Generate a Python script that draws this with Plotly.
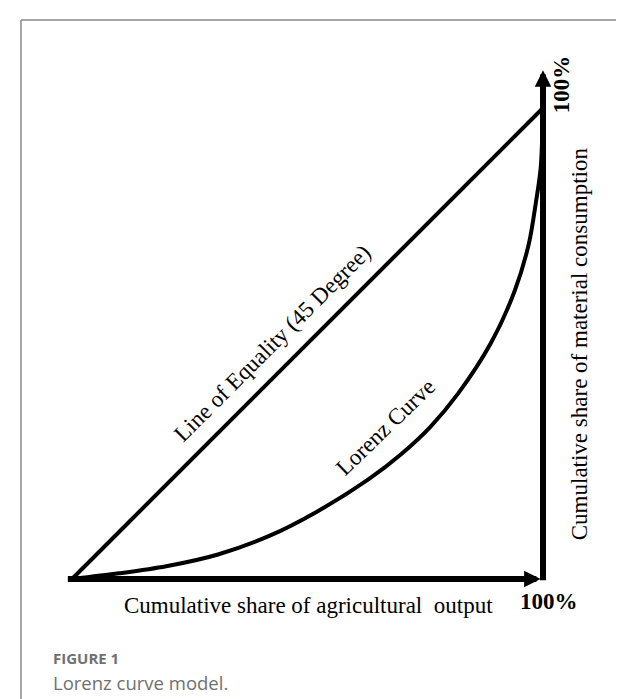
import plotly.graph_objects as go

# ---- data (normalised cumulative shares) ----
equality_x = [0.0, 1.0]
equality_y = [0.0, 1.0]

lorenz_x = [0.0, 0.10, 0.20, 0.31, 0.42, 0.52, 0.63, 0.70, 0.76, 0.82, 0.89, 0.94, 0.97, 0.985, 0.995, 1.0]
lorenz_y = [0.0, 0.012, 0.027, 0.052, 0.092, 0.143, 0.212, 0.266, 0.322, 0.394, 0.502, 0.612, 0.712, 0.800, 0.872, 1.0]

x_axis_label = "Cumulative share of agricultural\u00a0 output"
y_axis_label = "Cumulative share of material consumption"
end_label = "100%"
equality_label = "Line of Equality (45 Degree)"
lorenz_label = "Lorenz Curve"
caption_title = "FIGURE 1"
caption_text = "Lorenz curve model."

# ---- layout geometry (pixels) ----
W, H = 624, 699
X0PX, Y0PX, UNIT = 64, 571, 471
xr = [-X0PX / UNIT, (W - X0PX) / UNIT]
yr = [(Y0PX - H) / UNIT, Y0PX / UNIT]

SERIF = "Liberation Serif, Times New Roman, serif"
SANS = "Open Sans, Lato, sans-serif"
FS = 23

fig = go.Figure()

fig.add_trace(go.Scatter(x=equality_x, y=equality_y, mode="lines",
                         line=dict(color="black", width=4), cliponaxis=False,
                         hoverinfo="skip", showlegend=False))
fig.add_trace(go.Scatter(x=lorenz_x, y=lorenz_y, mode="lines",
                         line=dict(color="black", width=4, shape="spline", smoothing=0.9),
                         cliponaxis=False, hoverinfo="skip", showlegend=False))

annotations = []
# horizontal axis arrow
annotations.append(dict(x=0.995, y=0, ax=-0.012, ay=0, xref="x", yref="y",
                        axref="x", ayref="y", showarrow=True, arrowhead=2,
                        arrowwidth=6, arrowsize=0.55, arrowcolor="black", text=""))
# vertical axis arrow
annotations.append(dict(x=1.0, y=1.08, ax=1.0, ay=-0.006, xref="x", yref="y",
                        axref="x", ayref="y", showarrow=True, arrowhead=2,
                        arrowwidth=6, arrowsize=0.55, arrowcolor="black", text=""))

annotations.append(dict(x=0.503, y=-0.057, xref="x", yref="y", text=x_axis_label,
                        showarrow=False, font=dict(family=SERIF, size=FS, color="black")))
annotations.append(dict(x=1.012, y=-0.047, xref="x", yref="y", text="<b>" + end_label + "</b>",
                        showarrow=False, font=dict(family=SERIF, size=FS, color="black")))
annotations.append(dict(x=1.078, y=0.50, xref="x", yref="y", text=y_axis_label, textangle=-90,
                        showarrow=False, font=dict(family=SERIF, size=FS, color="black")))
annotations.append(dict(x=1.04, y=1.05, xref="x", yref="y", text="<b>" + end_label + "</b>",
                        textangle=-90, showarrow=False,
                        font=dict(family=SERIF, size=FS, color="black")))
annotations.append(dict(x=0.425, y=0.50, xref="x", yref="y", text=equality_label, textangle=-45,
                        showarrow=False, font=dict(family=SERIF, size=FS, color="black")))
annotations.append(dict(x=0.665, y=0.322, xref="x", yref="y", text=lorenz_label, textangle=-44,
                        showarrow=False, font=dict(family=SERIF, size=FS, color="black")))

annotations.append(dict(x=43 / W, y=1 - 650 / H, xref="paper", yref="paper",
                        xanchor="left", yanchor="middle",
                        text="<b>" + caption_title + "</b>", showarrow=False,
                        font=dict(family=SANS, size=15, color="#707070")))
annotations.append(dict(x=43 / W, y=1 - 674 / H, xref="paper", yref="paper",
                        xanchor="left", yanchor="middle",
                        text=caption_text, showarrow=False,
                        font=dict(family=SANS, size=18.5, color="#707070")))

shapes = [
    dict(type="line", xref="paper", yref="paper", x0=13 / W, x1=13 / W, y0=0, y1=1 - 12 / H,
         line=dict(color="#8a8a8a", width=1.5)),
    dict(type="line", xref="paper", yref="paper", x0=13 / W, x1=1, y0=1 - 12 / H, y1=1 - 12 / H,
         line=dict(color="#8a8a8a", width=1.5)),
]

fig.update_layout(
    width=W, height=H,
    margin=dict(l=0, r=0, t=0, b=0),
    paper_bgcolor="white", plot_bgcolor="white",
    xaxis=dict(range=xr, visible=False, fixedrange=True),
    yaxis=dict(range=yr, visible=False, fixedrange=True),
    annotations=annotations, shapes=shapes,
)

fig.write_html("out.html")
